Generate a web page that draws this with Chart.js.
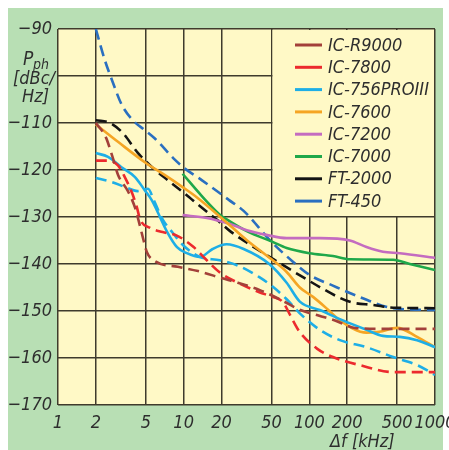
<!DOCTYPE html>
<html>
<head>
<meta charset="utf-8">
<script src="https://cdn.jsdelivr.net/npm/chart.js@4/dist/chart.umd.min.js"></script>
<style>
  body { margin: 0; background: #fff; }
  canvas { display: block; }
</style>
</head>
<body>
<canvas id="noiseChart" width="449" height="450"></canvas>
<script>
// phase noise vs offset
const xTicks = [1, 2, 5, 10, 20, 50, 100, 200, 500, 1000];
const yTicks = [-170, -160, -150, -140, -130, -120, -110, -100, -90];

const r9000F  = [2, 2.4, 2.7, 3, 3.6, 4.1, 4.5, 4.8, 5.1, 6, 9, 13, 20, 27, 40, 60, 85, 120, 160, 230, 400, 1000];
const r9000Db = [-110, -113, -117, -121, -124.5, -128, -132, -135, -137.5, -139.5, -140.6, -141.5, -143, -144, -145.5, -147.7, -149.8, -151, -152, -153.6, -153.8, -153.8];

const ic7800F  = [2, 2.5, 3, 3.4, 3.9, 4.25, 4.5, 5.4, 6.8, 8.9, 12, 15, 19.4, 27, 40, 51, 61, 74, 84, 115, 154, 250, 465, 1000];
const ic7800Db = [-118, -118, -119, -121.5, -125, -128, -130.5, -132.3, -133.2, -134, -136.4, -139, -141.8, -144, -146, -147, -148, -152, -154.5, -158, -159.8, -161.5, -163, -163];

const ic756F  = [2, 2.5, 3.2, 4.1, 4.9, 5.6, 6.1, 7.4, 8.85, 10.6, 13.5, 17, 22, 30, 48, 66, 84, 121, 185, 285, 385, 525, 720, 1000];
const ic756Db = [-116.4, -117.2, -119.4, -121.5, -124.3, -126.5, -128.5, -133.2, -136.4, -137.7, -138.5, -136.8, -135.8, -136.8, -140, -144, -148, -149.8, -152, -154, -155.3, -155.5, -156.2, -157.7];

const ic756bF  = [2, 2.7, 3.4, 4.3, 5.2, 5.8, 6.8, 8.2, 9.9, 13.5, 19.4, 28, 40, 51, 66, 84, 121, 175, 285, 465, 720, 1000];
const ic756bDb = [-121.7, -122.6, -123.6, -124.5, -124, -126.5, -130.5, -133.4, -136, -138.5, -139.2, -140.5, -142.8, -144.8, -147.5, -150.5, -154, -156.2, -157.7, -159.8, -161.5, -163.6];

const ic7600F  = [2, 3, 5, 7, 10, 13, 20, 32, 50, 66, 84, 107, 138, 175, 285, 360, 500, 720, 1000];
const ic7600Db = [-110.3, -114, -118.5, -121, -123.8, -126, -130.2, -135, -139, -141.7, -145, -147, -149.5, -152, -154.6, -154.4, -153.6, -155.5, -157.7];

const ic7200F  = [9.8, 15.3, 23.4, 31.8, 45.6, 66, 121, 210, 285, 385, 525, 1000];
const ic7200Db = [-129.6, -130.2, -131.5, -132.8, -133.8, -134.5, -134.5, -135, -136.4, -137.4, -137.7, -138.7];

const ic7000F  = [9.8, 13.9, 19.4, 22, 31.8, 51, 66, 100, 154, 210, 465, 630, 1000];
const ic7000Db = [-120.8, -125.5, -129.5, -130.5, -133, -135.3, -136.6, -137.7, -138.3, -139, -139.1, -140, -141.3];

const ft2000F  = [2, 2.6, 3.3, 4.3, 5.6, 7.5, 10.2, 13.9, 18.4, 23.4, 32, 58, 89, 121, 175, 220, 320, 465, 1000];
const ft2000Db = [-109.4, -110, -112.2, -116.3, -119.4, -122.2, -125, -128, -130.6, -133, -135.5, -139.8, -142.8, -144.9, -147.2, -148.2, -148.7, -149.3, -149.4];

const ft450F  = [2, 2.35, 2.7, 3.2, 3.9, 4.9, 5.9, 8.5, 10, 14, 23, 30, 50, 74, 100, 154, 250, 465, 1000];
const ft450Db = [-90, -96.5, -101, -106, -109.3, -111.5, -113.3, -117.8, -119.5, -122.2, -126.4, -128.7, -135.3, -139.5, -142.3, -144.6, -147, -149.4, -149.8];

const FONT = "'Liberation Sans Narrow', 'DejaVu Sans Condensed', 'Liberation Sans', Arial, sans-serif";
const TEXT = '#2e2e2e';
const GRID = '#3f3b2c';
const GREEN = '#b8dfb4';
const YELLOW = '#fff9c6';

const pts = (f, db) => f.map((v, i) => ({ x: v, y: db[i] }));

const mk = (label, f, db, color, dashed, inLegend = true) => ({
    label: label,
    data: pts(f, db),
    borderColor: color,
    backgroundColor: color,
    borderWidth: 2.6,
    borderDash: dashed ? [11, 6] : [],
    pointRadius: 0,
    cubicInterpolationMode: 'monotone',
    fill: false,
    inLegend: inLegend
});

const datasets = [
    mk('IC-R9000', r9000F, r9000Db, '#a3403a', true),
    mk('IC-7800', ic7800F, ic7800Db, '#ec2a2e', true),
    mk('IC-756PROIII', ic756F, ic756Db, '#1eaee6', false),
    mk('IC-756PROIII', ic756bF, ic756bDb, '#1eaee6', true, false),
    mk('IC-7600', ic7600F, ic7600Db, '#f5a524', false),
    mk('IC-7200', ic7200F, ic7200Db, '#c46cc0', false),
    mk('IC-7000', ic7000F, ic7000Db, '#1fa84a', false),
    mk('FT-2000', ft2000F, ft2000Db, '#141414', true),
    mk('FT-450', ft450F, ft450Db, '#2a6fc0', true)
];

const panelPlugin = {
    id: 'panel',
    beforeDraw(chart) {
        const c = chart.ctx;
        const a = chart.chartArea;
        c.save();
        c.fillStyle = '#fff';
        c.fillRect(0, 0, chart.width, chart.height);
        c.fillStyle = GREEN;
        c.fillRect(8, 8, 435, 442);
        c.fillStyle = YELLOW;
        c.fillRect(a.left, a.top, a.right - a.left, a.bottom - a.top);
        c.restore();
    },
    beforeDatasetsDraw(chart) {
        // legend box covers the grid in the top right cells
        const c = chart.ctx;
        const x = chart.scales.x, y = chart.scales.y;
        const l = x.getPixelForValue(50) + 1;
        const r = chart.chartArea.right - 1;
        const t = chart.chartArea.top + 1;
        const b = y.getPixelForValue(-130) - 1;
        c.save();
        c.fillStyle = YELLOW;
        c.fillRect(l, t, r - l, b - t);
        let row = 0;
        chart.data.datasets.forEach(ds => {
            if (!ds.inLegend) return;
            const yy = 45 + row * 22.3;
            c.strokeStyle = ds.borderColor;
            c.lineWidth = 3;
            c.beginPath();
            c.moveTo(295, yy);
            c.lineTo(322, yy);
            c.stroke();
            c.fillStyle = TEXT;
            c.font = 'italic 18px ' + FONT;
            c.textBaseline = 'middle';
            c.fillText(ds.label, 328, yy + 1);
            row++;
        });
        c.restore();
    },
    afterDraw(chart) {
        const c = chart.ctx;
        c.save();
        c.fillStyle = TEXT;
        c.textBaseline = 'alphabetic';
        c.font = 'italic 19px ' + FONT;
        c.fillText('P', 23, 65);
        c.font = 'italic 14px ' + FONT;
        c.fillText('ph', 33, 69);
        c.font = 'italic 18px ' + FONT;
        c.fillText('[dBc/', 13, 84);
        c.fillText('Hz]', 22, 102);
        c.fillText('\u0394f [kHz]', 330, 447);
        c.restore();
    }
};

const ctx = document.getElementById('noiseChart').getContext('2d');
const noiseChart = new Chart(ctx, {
    type: 'line',
    data: { datasets: datasets },
    options: {
        responsive: false,
        animation: false,
        layout: {
            autoPadding: false,
            padding: { left: 8, top: 29, right: 14, bottom: 0 }
        },
        plugins: {
            legend: { display: false },
            tooltip: { enabled: false }
        },
        scales: {
            x: {
                type: 'logarithmic',
                min: 1,
                max: 1000,
                afterBuildTicks: axis => { axis.ticks = xTicks.map(v => ({ value: v })); },
                afterFit: scale => {
                    scale.height = 45;
                    scale.paddingLeft = 0;
                    scale.paddingRight = 0;
                },
                border: { display: false },
                grid: { color: GRID, lineWidth: 1.5, drawTicks: false },
                ticks: {
                    autoSkip: false,
                    maxRotation: 0,
                    padding: 8,
                    color: TEXT,
                    font: { family: FONT, size: 18, style: 'italic' },
                    callback: v => String(v)
                }
            },
            y: {
                type: 'linear',
                min: -170,
                max: -90,
                afterBuildTicks: axis => { axis.ticks = yTicks.map(v => ({ value: v })); },
                afterFit: scale => {
                    scale.width = 50;
                    scale.paddingTop = 0;
                    scale.paddingBottom = 0;
                },
                border: { display: false },
                grid: { color: GRID, lineWidth: 1.5, drawTicks: false },
                ticks: {
                    padding: 6,
                    color: TEXT,
                    font: { family: FONT, size: 18, style: 'italic' },
                    callback: v => (v === -100 ? '' : '\u2212' + Math.abs(v))
                }
            }
        }
    },
    plugins: [panelPlugin]
});
</script>
</body>
</html>
